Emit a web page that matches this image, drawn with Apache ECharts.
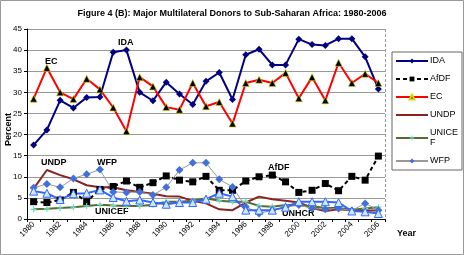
<!DOCTYPE html>
<html><head><meta charset="utf-8">
<script src="https://cdn.jsdelivr.net/npm/echarts@6/dist/echarts.min.js"></script>
<style>html,body{margin:0;padding:0;background:#fff}#c{width:464px;height:255px}</style>
</head><body><div id="c"></div>
<script>
const years = ['1980','1981','1982','1983','1984','1985','1986','1987','1988','1989','1990','1991','1992','1993','1994','1995','1996','1997','1998','1999','2000','2001','2002','2003','2004','2005','2006'];
const IDA   = [17.5,21.1,28.1,26.3,28.8,28.9,39.5,40.0,30.0,28.0,32.4,29.6,27.1,32.6,34.7,28.3,38.9,40.2,36.5,36.5,42.6,41.3,41.1,42.7,42.7,38.4,30.8];
const AfDF  = [4.1,3.9,4.5,6.3,4.1,7.0,7.7,9.0,7.5,8.6,10.2,9.2,8.8,10.1,6.8,6.8,9.0,10.0,10.4,8.8,6.3,6.8,8.4,6.7,10.1,9.2,14.9];
const EC    = [28.5,35.8,30.0,28.4,33.2,30.7,26.4,20.8,33.6,31.4,26.5,25.9,32.2,26.7,27.7,22.6,32.2,33.0,32.2,34.6,28.6,33.6,28.1,37.0,32.2,34.4,32.2];
const UNDP  = [7.2,11.6,10.4,9.4,8.0,7.5,7.5,6.8,6.4,6.0,5.4,5.3,4.3,3.7,2.3,2.1,3.9,5.3,4.7,4.3,3.9,2.6,1.9,2.3,2.1,2.0,2.0];
const UNICEF= [2.3,2.4,2.6,2.8,3.1,3.4,3.2,3.1,3.1,3.4,4.1,4.1,4.3,4.9,4.3,4.1,4.1,3.1,2.9,3.3,3.3,3.0,2.6,2.6,2.2,2.5,2.8];
const WFP   = [7.4,8.3,7.5,9.6,10.6,11.7,6.4,6.3,6.4,5.7,7.5,11.6,13.3,13.3,9.4,7.6,2.9,1.3,2.1,2.8,3.3,2.5,2.3,2.5,2.0,3.7,2.1];
const UNHCR = [6.6,6.1,4.6,6.0,6.1,6.9,5.1,4.2,4.5,3.9,3.5,3.9,3.9,4.7,6.1,5.3,2.1,2.1,2.1,2.8,4.1,4.1,4.1,3.9,1.9,1.7,1.3];
const legendNames = ['IDA','AfDF','EC','UNDP','UNICEF','WFP'];
const yTicks = {min:0, max:45, interval:5};

const FONT = "'Liberation Sans', Arial, sans-serif";
const chart = echarts.init(document.getElementById('c'), null, {renderer:'canvas'});
const crossPath = 'path://M4,0h2v4h4v2h-4v4h-2v-4h-4v-2h4z';
const lbl = (text, x, y) => ({type:'text', left:x, top:y, style:{text, font:"bold 9px "+FONT, fill:'#000'}});

chart.setOption({
  animation:false,
  backgroundColor:'#fff',
  textStyle:{fontFamily:FONT},
  title:{text:'Figure 4 (B): Major Multilateral Donors to Sub-Saharan Africa: 1980-2006', left:'center', top:9, padding:0,
         textStyle:{fontSize:9, fontWeight:'bold', color:'#000', fontFamily:FONT}},
  grid:{left:27, right:79, top:29, bottom:36, containLabel:false},
  legend:{data:legendNames.map(n => n==='UNDP' ? {name:n, itemStyle:{color:'transparent', borderWidth:0}} : n),
          orient:'vertical', left:392, top:52, itemWidth:32, itemHeight:6, itemGap:8,
          padding:[4,4,4,3], borderColor:'#666', borderWidth:1,
          formatter:n => n==='UNICEF' ? 'UNICE\nF' : n,
          textStyle:{fontSize:9, color:'#000', lineHeight:10, fontFamily:FONT, padding:[0,0,0,-3]}},
  xAxis:{type:'category', data:years, boundaryGap:true,
         axisLine:{lineStyle:{color:'#000', width:1}},
         axisTick:{show:true, interval:0, length:3, lineStyle:{color:'#000'}},
         axisLabel:{interval:1, rotate:45, fontSize:8, color:'#000', margin:4, fontFamily:FONT},
         name:'Year', nameLocation:'end', nameGap:12, nameTextStyle:{fontSize:9, fontWeight:'bold', color:'#000', verticalAlign:'top', padding:[10,0,0,0]}},
  yAxis:{type:'value', min:yTicks.min, max:yTicks.max, interval:yTicks.interval,
         axisLine:{show:true, lineStyle:{color:'#000'}},
         axisTick:{show:true, length:3, lineStyle:{color:'#000'}},
         axisLabel:{fontSize:8, color:'#000', margin:5, fontFamily:FONT},
         splitLine:{lineStyle:{color:'#999', width:1}}},
  graphic:[
    {type:'rect', shape:{x:0.5,y:0.5,width:463,height:254}, style:{fill:'none', stroke:'#999', lineWidth:1}, silent:true},
    {type:'line', shape:{x1:385.5,y1:29,x2:385.5,y2:219}, style:{stroke:'#999', lineWidth:1, lineDash:[3,2]}, silent:true},
    {type:'text', left:4, top:113, rotation:Math.PI/2, style:{text:'Percent', font:"bold 9px "+FONT, fill:'#000'}},
    lbl('IDA',118,38), lbl('EC',45,57), lbl('UNDP',41,158), lbl('WFP',97,158),
    lbl('UNICEF',95,207), lbl('AfDF',268,163), lbl('UNHCR',282,209)
  ],
  series:[
    {name:'IDA', type:'line', data:IDA, symbol:'diamond', symbolSize:7, lineStyle:{color:'#000080', width:2}, itemStyle:{color:'#000080'}},
    {name:'AfDF', type:'line', data:AfDF, symbol:'rect', symbolSize:7, lineStyle:{color:'#000', width:2, type:[4,3]}, itemStyle:{color:'#000'}},
    {name:'EC', type:'line', data:EC, symbol:'triangle', symbolSize:7, lineStyle:{color:'#ff0000', width:2}, itemStyle:{color:'#000', borderColor:'#d8d800', borderWidth:0.6}},
    {name:'UNDP', type:'line', data:UNDP, symbol:'none', lineStyle:{color:'#8b2222', width:2}, itemStyle:{color:'#8b2222'}},
    {name:'UNICEF', type:'line', data:UNICEF, symbol:crossPath, symbolSize:6, lineStyle:{color:'#556b2f', width:2}, itemStyle:{color:'#66e0c0'}},
    {name:'WFP', type:'line', data:WFP, symbol:'diamond', symbolSize:8, lineStyle:{color:'#999', width:1}, itemStyle:{color:'#4070d8'}},
    {name:'UNHCR', type:'line', data:UNHCR, symbol:'triangle', symbolSize:8, lineStyle:{color:'#3366ff', width:2}, itemStyle:{color:'#cce8ff', borderColor:'#3366ff', borderWidth:1}}
  ]
});
</script></body></html>
